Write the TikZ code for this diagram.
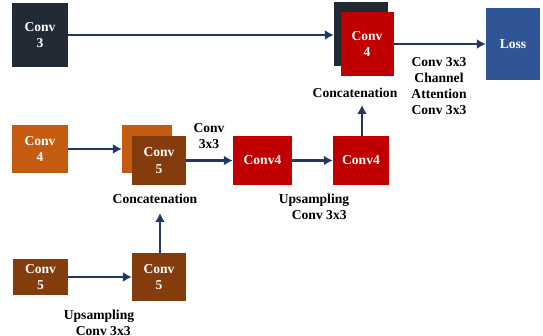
\documentclass[tikz,border=0pt]{standalone}
\usepackage{fontspec}
\setmainfont{Liberation Serif}
\usetikzlibrary{arrows.meta}
\definecolor{darkbox}{HTML}{222A35}
\definecolor{redbox}{HTML}{C00000}
\definecolor{orangebox}{HTML}{C55A11}
\definecolor{brownbox}{HTML}{843C0C}
\definecolor{lossbox}{HTML}{2F5597}
\definecolor{arrowc}{HTML}{203864}
\tikzset{
  blk/.style={rectangle, inner sep=0pt, align=center, text=white,
    font=\fontsize{13.6}{16.5}\selectfont\bfseries},
  lbl/.style={inner sep=0pt, align=center, text=black,
    font=\fontsize{13.6}{16}\selectfont\bfseries},
  arr/.style={draw=arrowc, line width=2.8pt, -{Latex[length=9pt,width=10pt]}}
}
\begin{document}
\begin{tikzpicture}[x=1pt,y=-1pt]
\useasboundingbox (0,0) rectangle (543,336);
% top row
\node[blk, fill=darkbox, minimum width=56pt, minimum height=64pt] (conv3) at (40,35) {Conv\\3};
\node[blk, fill=darkbox, minimum width=54pt, minimum height=64pt] (back) at (361,34) {};
\node[blk, fill=redbox, minimum width=53pt, minimum height=64pt] (c4top) at (367,44) {Conv\\4};
\node[blk, fill=lossbox, minimum width=54pt, minimum height=72pt] (loss) at (513,44) {Loss};
% middle row
\node[blk, fill=orangebox, minimum width=56pt, minimum height=48pt] (c4o) at (40,149) {Conv\\4};
\node[blk, fill=orangebox, minimum width=50pt, minimum height=48pt] (c4oback) at (147,149) {};
\node[blk, fill=brownbox, minimum width=54pt, minimum height=49pt] (c5front) at (159,160.5) {Conv\\5};
\node[blk, fill=redbox, minimum width=59pt, minimum height=49pt] (c4a) at (262.5,160.5) {Conv4};
\node[blk, fill=redbox, minimum width=56pt, minimum height=49pt] (c4b) at (361,160.5) {Conv4};
% bottom row
\node[blk, fill=brownbox, minimum width=55pt, minimum height=36pt] (c5l) at (40.5,277) {Conv\\5};
\node[blk, fill=brownbox, minimum width=54pt, minimum height=48pt] (c5r) at (159,277) {Conv\\5};
% labels
\node[lbl] (concat1) at (355,93) {Concatenation};
\node[lbl] (ca) at (439,86) {Conv 3x3\\Channel\\Attention\\Conv 3x3};
\node[lbl] (c33) at (209,136.5) {Conv\\3x3};
\node[lbl] (concat2) at (155,199) {Concatenation};
\node[lbl, align=left] (up1) at (314,207) {Upsampling\\\hspace*{13pt}Conv 3x3};
\node[lbl, align=left] (up2) at (99,322.5) {Upsampling\\\hspace*{12pt}Conv 3x3};
\coordinate (tip1) at (362,105);
\coordinate (tip2) at (160,213);
% connectors
\draw[arr] (conv3.east) -- (conv3.east -| back.west);
\draw[arr] (c4top.east) -- (loss.west);
\draw[arr] (c4o.east) -- (c4o.east -| c4oback.west);
\draw[arr] (c5front.east) -- (c4a.west);
\draw[arr] (c4a.east) -- (c4b.west);
\draw[arr] (c4b.north -| tip1) -- (tip1);
\draw[arr] (c5l.east) -- (c5l.east -| c5r.west);
\draw[arr] (c5r.north -| tip2) -- (tip2);
\end{tikzpicture}
\end{document}
